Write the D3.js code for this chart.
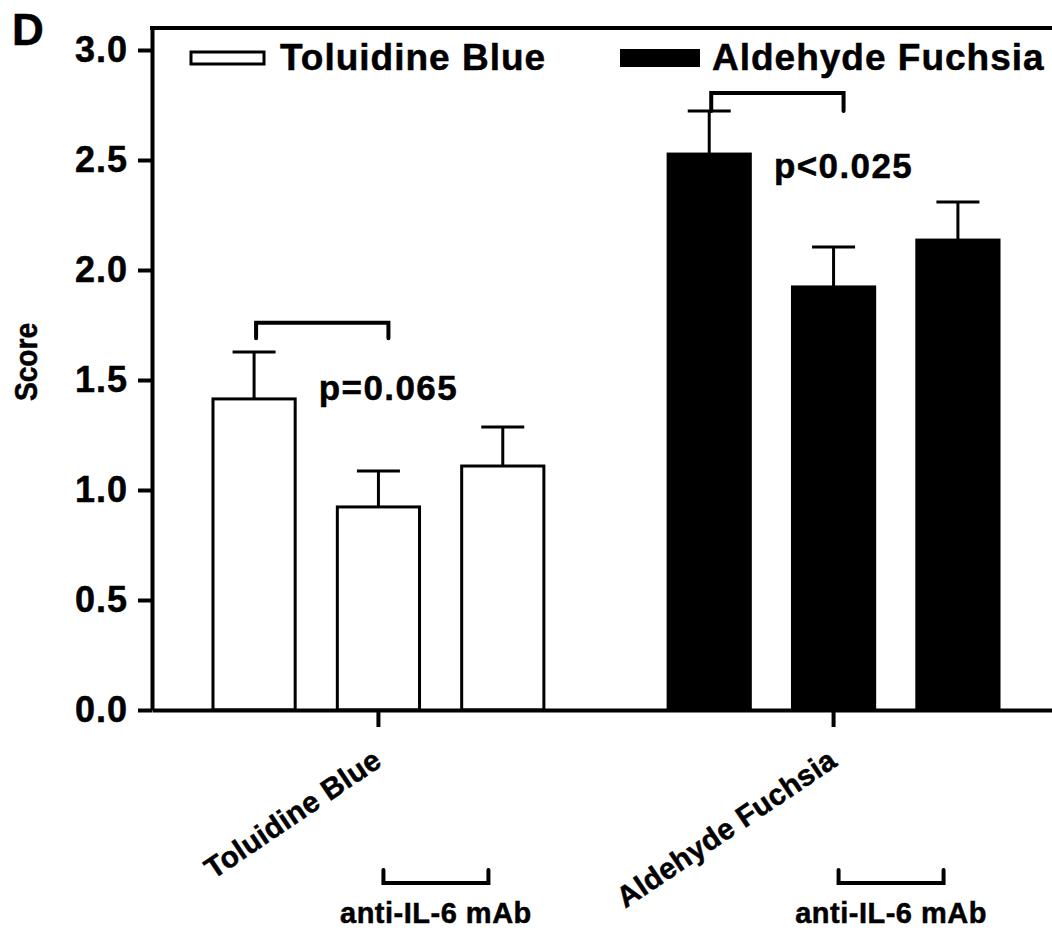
<!DOCTYPE html>
<html>
<head>
<meta charset="utf-8">
<script src="https://cdn.jsdelivr.net/npm/d3@7"></script>
<style>
  body { margin: 0; background: #fff; }
  text { font-family: "Liberation Sans", Arial, sans-serif; font-weight: bold; fill: #000;
         stroke: #000; stroke-width: 0.5px; }
</style>
</head>
<body>
<svg id="chart" width="1052" height="930"></svg>
<script>
const groups = ["Toluidine Blue", "Aldehyde Fuchsia"]
const conditions = ["control", "anti1", "anti2"]
const toluidineMeans = [1.414, 0.923, 1.109]
const toluidineErrors = [0.213, 0.163, 0.177]
const fuchsiaMeans = [2.527, 1.923, 2.136]
const fuchsiaErrors = [0.196, 0.182, 0.173]
const yTicks = [0, 0.5, 1.0, 1.5, 2.0, 2.5, 3.0]
const pLabels = ["p=0.065", "p<0.025"]
const pLabelValues = [1.41, 2.42]
const bracketTop = [1.76, 2.805]
const bracketEnds = [1.69, 2.723]
const treatmentLabel = "anti-IL-6 mAb"

const svg = d3.select("#chart")

const y = d3.scaleLinear().domain([0, 3.1]).range([710, 28])
const x = d3.scaleBand().domain(groups).range([152, 1060])
  .paddingInner(0.273).paddingOuter(0.134)
const xi = d3.scaleBand().domain(conditions).range([0, x.bandwidth()])
  .paddingInner(0.339).paddingOuter(0)

const data = []
groups.forEach((g, gi) => {
  const means = gi == 0 ? toluidineMeans : fuchsiaMeans
  const errs = gi == 0 ? toluidineErrors : fuchsiaErrors
  conditions.forEach((c, ci) => {
    data.push({ group: g, cond: c, mean: means[ci], err: errs[ci], filled: gi == 1 })
  })
})
const barX = (d) => x(d.group) + xi(d.cond)
const barC = (d) => barX(d) + xi.bandwidth() / 2

// error bars (drawn first so the bars cover the lower part)
const capW = 43
const eb = svg.append("g").attr("stroke", "#000").attr("stroke-width", 3)
eb.selectAll(".ev").data(data).enter().append("line")
  .attr("x1", barC).attr("x2", barC)
  .attr("y1", (d) => y(d.mean)).attr("y2", (d) => y(d.mean + d.err))
eb.selectAll(".ec").data(data).enter().append("line")
  .attr("x1", (d) => barC(d) - capW / 2).attr("x2", (d) => barC(d) + capW / 2)
  .attr("y1", (d) => y(d.mean + d.err)).attr("y2", (d) => y(d.mean + d.err))

svg.append("g").selectAll("rect").data(data).enter().append("rect")
  .attr("x", barX)
  .attr("y", (d) => y(d.mean))
  .attr("width", xi.bandwidth())
  .attr("height", (d) => y(0) - y(d.mean))
  .attr("fill", (d) => (d.filled ? "#000" : "#fff"))
  .attr("stroke", "#000")
  .attr("stroke-width", 3)

// axes
const yAxis = svg.append("g")
  .attr("transform", "translate(152,0)")
  .call(d3.axisLeft(y).tickValues(yTicks).tickFormat(d3.format(".1f"))
    .tickSize(14).tickSizeOuter(0).tickPadding(10))
yAxis.select(".domain").attr("stroke-width", 4)
yAxis.selectAll(".tick line").attr("stroke-width", 4)
yAxis.selectAll(".tick text")
  .attr("font-size", 36).style("letter-spacing", "1px")
  .attr("font-family", "Liberation Sans, Arial, sans-serif").attr("font-weight", "bold")

const xAxis = svg.append("g")
  .attr("transform", `translate(0,${y(0)})`)
  .call(d3.axisBottom(x).tickSize(17).tickSizeOuter(0).tickFormat(""))
xAxis.select(".domain").attr("stroke-width", 4)
xAxis.selectAll(".tick line").attr("stroke-width", 4)

// top frame line
svg.append("line")
  .attr("x1", 150).attr("x2", 1060)
  .attr("y1", y(3.1)).attr("y2", y(3.1))
  .attr("stroke", "#000").attr("stroke-width", 4)

// category labels
svg.append("g").selectAll("text").data(groups).enter().append("text")
  .attr("transform", (d) => `translate(${x(d) + x.bandwidth() / 2 + 5},765) rotate(-34)`)
  .attr("text-anchor", "end")
  .attr("font-size", 29.5)
  .style("letter-spacing", "0.3px")
  .text((d) => d)

// significance brackets
const sig = svg.append("g").attr("fill", "none").attr("stroke", "#000")
  .attr("stroke-width", 4).attr("stroke-linecap", "round")
groups.forEach((g, gi) => {
  const a = x(g) + xi(conditions[0]) + xi.bandwidth() / 2 + 2
  const b = x(g) + xi(conditions[1]) + xi.bandwidth() / 2 + 10
  sig.append("path")
    .attr("d", `M${a},${y(bracketEnds[gi])}V${y(bracketTop[gi])}H${b}V${y(bracketEnds[gi])}`)
  svg.append("text")
    .attr("x", x(g) + xi(conditions[1]) + xi.bandwidth() / 2 + 10)
    .attr("y", y(pLabelValues[gi]))
    .attr("text-anchor", "middle")
    .attr("font-size", 35)
    .style("letter-spacing", "1.4px")
    .text(pLabels[gi])

  // treatment bracket
  const t0 = x(g) + xi(conditions[1]) + xi.bandwidth() / 2 + 5
  const t1 = t0 + 105
  sig.append("path").attr("d", `M${t0},870V883H${t1}V870`)
  svg.append("text")
    .attr("x", (t0 + t1) / 2)
    .attr("y", 923)
    .attr("text-anchor", "middle")
    .attr("font-size", 29)
    .style("letter-spacing", "0.5px")
    .text(treatmentLabel)
})

// legend
svg.append("rect").attr("x", 191).attr("y", 52).attr("width", 73).attr("height", 12)
  .attr("fill", "#fff").attr("stroke", "#000").attr("stroke-width", 3)
svg.append("text").attr("x", 280).attr("y", 70).attr("font-size", 37)
  .style("letter-spacing", "1px").text(groups[0])
svg.append("rect").attr("x", 620).attr("y", 49).attr("width", 80).attr("height", 18)
  .attr("fill", "#000")
svg.append("text").attr("x", 712).attr("y", 70).attr("font-size", 37)
  .style("letter-spacing", "1px").text(groups[1])

// y label and panel letter
svg.append("text")
  .attr("transform", "translate(37,362) rotate(-90) scale(0.88,1)")
  .attr("text-anchor", "middle")
  .attr("font-size", 32)
  .text("Score")
svg.append("text").attr("x", 12).attr("y", 45).attr("font-size", 44).text("D")
</script>
</body>
</html>
